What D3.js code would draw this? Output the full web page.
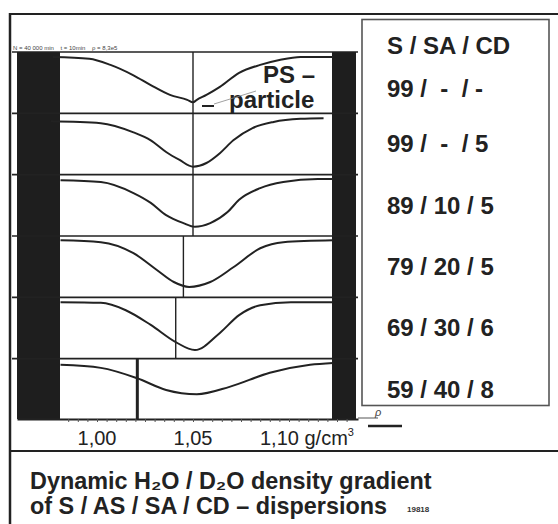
<!DOCTYPE html>
<html><head><meta charset="utf-8">
<script src="https://cdn.jsdelivr.net/npm/d3@7"></script>
<style>
html,body{margin:0;padding:0;background:#fff;}
svg{display:block;font-family:"Liberation Sans",Arial,sans-serif;}
</style></head><body>
<svg id="chart" width="558" height="524"></svg>
<script>
// ---------- data ----------
const densityTicks = [1.00, 1.05, 1.10];
const tickLabels = ["1,00", "1,05", "1,10"];
const legendTitle = "S / SA / CD";
const compositions = ["99 /  -  / -", "99 /  -  / 5", "89 / 10 / 5", "79 / 20 / 5", "69 / 30 / 6", "59 / 40 / 8"];
const runInfo = "N = 40 000 min    t = 10min    ρ = 8,3e5";
const captionLine1 = "Dynamic H₂O / D₂O density gradient";
const captionLine2 = "of S / AS / SA / CD – dispersions";
const figureNo = "19818";

// density (g/cm³) and relative extinction (0 = panel baseline, 1 = panel bottom)
const density1 = [0.977, 0.996, 1.007, 1.019, 1.028, 1.038, 1.047, 1.050, 1.052, 1.057, 1.064, 1.074, 1.085, 1.095, 1.106, 1.123];
const signal1  = [0.08, 0.11, 0.21, 0.38, 0.54, 0.70, 0.78, 0.82, 0.78, 0.70, 0.57, 0.34, 0.21, 0.13, 0.08, 0.08];
const density2 = [0.976, 1.002, 1.019, 1.028, 1.036, 1.043, 1.050, 1.057, 1.064, 1.071, 1.081, 1.092, 1.106, 1.118];
const signal2  = [0.13, 0.16, 0.31, 0.44, 0.63, 0.76, 0.87, 0.81, 0.65, 0.44, 0.24, 0.14, 0.09, 0.08];
const density3 = [0.981, 1.002, 1.019, 1.028, 1.036, 1.045, 1.051, 1.059, 1.068, 1.074, 1.085, 1.097, 1.115, 1.123];
const signal3  = [0.09, 0.12, 0.30, 0.46, 0.66, 0.79, 0.85, 0.79, 0.61, 0.41, 0.22, 0.12, 0.07, 0.07];
const density4 = [0.981, 1.002, 1.019, 1.031, 1.040, 1.048, 1.059, 1.071, 1.085, 1.097, 1.123];
const signal4  = [0.07, 0.10, 0.28, 0.55, 0.75, 0.83, 0.75, 0.51, 0.20, 0.10, 0.07];
const density5 = [0.981, 1.002, 1.015, 1.028, 1.041, 1.051, 1.064, 1.074, 1.085, 1.101, 1.123];
const signal5  = [0.08, 0.09, 0.21, 0.45, 0.73, 0.86, 0.58, 0.29, 0.13, 0.08, 0.08];
const density6 = [0.981, 1.002, 1.021, 1.036, 1.052, 1.069, 1.090, 1.111, 1.123];
const signal6  = [0.10, 0.15, 0.32, 0.51, 0.58, 0.46, 0.23, 0.10, 0.07];
// vertical marker position in each panel (g/cm³)
const markerDensity = [1.050, 1.050, 1.050, 1.045, 1.041, 1.021];

const densities = [density1, density2, density3, density4, density5, density6];
const signals = [signal1, signal2, signal3, signal4, signal5, signal6];

// ---------- drawing ----------
const svg = d3.select("#chart");
const ink = "#222";

const x = d3.scaleLinear().domain([1.00, 1.05]).range([97, 193]);
const panel = d3.scaleBand().domain(d3.range(6)).range([52, 420]).paddingInner(0);

// outer frame
svg.append("line").attr("x1", 10).attr("x2", 10).attr("y1", 13).attr("y2", 524)
  .attr("stroke", ink).attr("stroke-width", 2.5);
svg.append("line").attr("x1", 9).attr("x2", 558).attr("y1", 14).attr("y2", 14)
  .attr("stroke", ink).attr("stroke-width", 2);
svg.append("line").attr("x1", 9).attr("x2", 558).attr("y1", 451).attr("y2", 451)
  .attr("stroke", ink).attr("stroke-width", 2);

// tube ends (dark bars)
svg.append("rect").attr("x", 17).attr("y", 52).attr("width", 43).attr("height", 367).attr("fill", "#1e1e1e");
svg.append("rect").attr("x", 332).attr("y", 52).attr("width", 24).attr("height", 367).attr("fill", "#1e1e1e");

// run info text
svg.append("text").attr("x", 13).attr("y", 50).attr("font-size", 6).attr("fill", "#444")
  .style("white-space", "pre").text(runInfo);

// panels
const line = d3.line().curve(d3.curveMonotoneX);
d3.range(6).forEach(i => {
  const top = panel(i), h = panel.bandwidth();
  const y = d3.scaleLinear().domain([0, 1]).range([top, top + h]);
  svg.append("line").attr("x1", 12).attr("x2", 358).attr("y1", top).attr("y2", top)
    .attr("stroke", ink).attr("stroke-width", 1.6);
  svg.append("line").attr("x1", x(markerDensity[i])).attr("x2", x(markerDensity[i]))
    .attr("y1", top).attr("y2", top + h)
    .attr("stroke", ink).attr("stroke-width", i === 5 ? 3 : 1.4);
  const pts = densities[i].map((d, k) => [x(d), y(signals[i][k])]);
  svg.append("path").attr("d", line(pts)).attr("fill", "none")
    .attr("stroke", ink).attr("stroke-width", 2);
});

// axis
const xAxisScale = x.copy().domain([x.invert(17), x.invert(358)]).range([17, 358]);
const axisG = svg.append("g").attr("transform", "translate(0,419)");
axisG.call(d3.axisBottom(xAxisScale).tickValues(d3.range(0.985, 1.1301, 0.005)).tickSize(3).tickSizeOuter(0).tickFormat(""));
axisG.select(".domain").attr("stroke", ink).attr("stroke-width", 2);
axisG.selectAll(".tick line").attr("stroke", "#555").attr("stroke-width", 1);

const labelsG = svg.append("g");
densityTicks.forEach((d, i) => {
  const t = labelsG.append("text").attr("y", 445).attr("font-size", 20).attr("fill", ink);
  if (i < densityTicks.length - 1) {
    t.attr("x", x(d)).attr("text-anchor", "middle").text(tickLabels[i]);
  } else {
    t.attr("x", x(d) - 29).attr("text-anchor", "start");
    t.append("tspan").text(tickLabels[i] + " g/cm");
    t.append("tspan").attr("font-size", 11).attr("dy", -9).text("3");
  }
});
// density direction mark
svg.append("line").attr("x1", 358).attr("x2", 378).attr("y1", 418).attr("y2", 418).attr("stroke", "#555").attr("stroke-width", 1);
svg.append("text").attr("x", 375).attr("y", 416).attr("font-size", 11).attr("font-style", "italic").attr("fill", "#444").text("ρ");
svg.append("line").attr("x1", 368).attr("x2", 402).attr("y1", 426).attr("y2", 426).attr("stroke", ink).attr("stroke-width", 2.5);

// PS particle annotation
svg.append("text").attr("x", 263).attr("y", 83).attr("font-size", 24).attr("font-weight", "bold").attr("fill", ink).text("PS –");
svg.append("text").attr("x", 229).attr("y", 108).attr("font-size", 24).attr("font-weight", "bold").attr("fill", ink).text("particle");
svg.append("line").attr("x1", 202).attr("x2", 214).attr("y1", 106).attr("y2", 106).attr("stroke", ink).attr("stroke-width", 2);
svg.append("line").attr("x1", 214).attr("x2", 256).attr("y1", 104).attr("y2", 91).attr("stroke", "#888").attr("stroke-width", 0.8);

// legend box
svg.append("rect").attr("x", 362).attr("y", 19.5).attr("width", 187).attr("height", 386)
  .attr("fill", "none").attr("stroke", "#555").attr("stroke-width", 1.6);
const legendX = 387;
svg.append("text").attr("x", legendX).attr("y", 46).attr("dy", "0.35em").attr("font-size", 24)
  .attr("font-weight", "bold").attr("fill", ink).text(legendTitle);
compositions.forEach((c, i) => {
  const cy = panel(i) + panel.bandwidth() / 2 + (i === 0 ? 6 : 0);
  svg.append("text").attr("x", legendX).attr("y", cy).attr("dy", "0.35em").attr("font-size", 24)
    .attr("font-weight", "bold").attr("fill", ink).style("white-space", "pre").text(c);
});

// caption
svg.append("text").attr("x", 30).attr("y", 489).attr("font-size", 23.4).attr("font-weight", "bold")
  .attr("fill", ink).text(captionLine1);
svg.append("text").attr("x", 30).attr("y", 514).attr("font-size", 23.4).attr("font-weight", "bold")
  .attr("fill", ink).text(captionLine2);
svg.append("text").attr("x", 407).attr("y", 512).attr("font-size", 8).attr("font-weight", "bold")
  .attr("fill", "#333").text(figureNo);
</script>
</body></html>
